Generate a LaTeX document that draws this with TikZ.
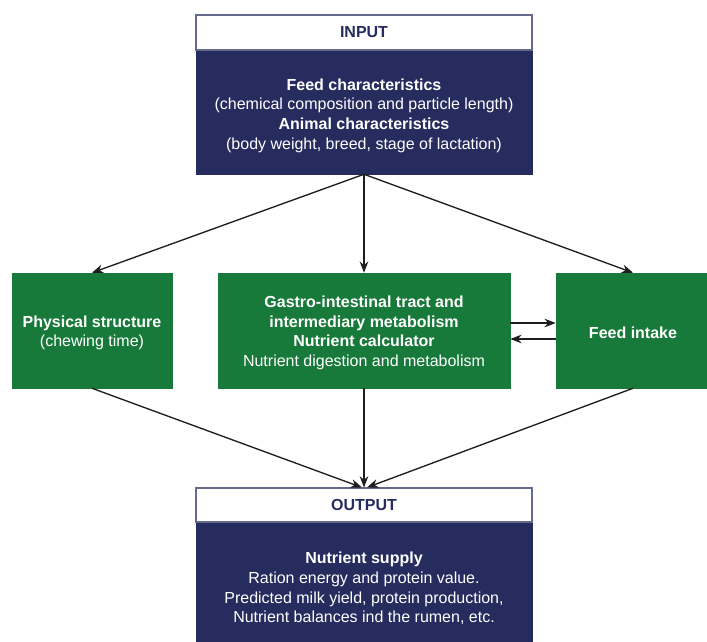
\documentclass[tikz,border=0pt]{standalone}
\usepackage{fontspec}
\setmainfont{Liberation Sans}
\usetikzlibrary{arrows.meta,calc}
\definecolor{navy}{RGB}{38,44,94}
\definecolor{dgreen}{RGB}{24,122,58}
\definecolor{hdrline}{RGB}{100,106,140}
\definecolor{linecol}{RGB}{30,30,30}
\tikzset{
  base/.style={rectangle, inner sep=0pt, align=center, font=\fontsize{12}{14.7}\selectfont},
  hdr/.style={base, fill=white, draw=hdrline, line width=0.8pt, text=navy, font=\fontsize{12}{14.7}\selectfont\bfseries},
  navybox/.style={base, fill=navy, draw=navy},
  greenbox/.style={base, fill=dgreen, draw=dgreen},
  txt/.style={base, text=white},
  arr/.style={draw=linecol, line width=1pt, -{Stealth[length=8.5pt,width=6.5pt]}}
}
\begin{document}
\begin{tikzpicture}[x=0.75pt,y=-0.75pt]
\useasboundingbox (0,0) rectangle (707,642);
\fill[white] (0,0) rectangle (707,642);

% INPUT
\node[navybox, minimum width=252pt, minimum height=93pt] (inb) at (364,112) {};
\node[txt] (inbt) at ($(inb.center)+(0,3.5)$)
  {\textbf{Feed characteristics}\\(chemical composition and particle length)\\\textbf{Animal characteristics}\\(body weight, breed, stage of lactation)};
\node[hdr, minimum width=252pt, minimum height=26.25pt] (inh) at (364,32.5) {INPUT};

% middle row
\node[greenbox, minimum width=120pt, minimum height=86.25pt] (phys) at (92,330.5) {};
\node[txt] (physt) at ($(phys.center)+(0,2.5)$) {\textbf{Physical structure}\\(chewing time)};
\node[greenbox, minimum width=219pt, minimum height=86.25pt] (mid) at (364,330.5) {};
\node[txt] (midt) at ($(mid.center)+(0,2.5)$)
  {\textbf{Gastro-intestinal tract and}\\\textbf{intermediary metabolism}\\\textbf{Nutrient calculator}\\Nutrient digestion and metabolism};
\node[greenbox, minimum width=115.5pt, minimum height=86.25pt] (fi) at (633,330.5) {};
\node[txt] (fit) at ($(fi.center)+(0,2)$) {\textbf{Feed intake}};

% OUTPUT
\node[navybox, minimum width=252pt, minimum height=97.5pt] (outb) at (364,587) {};
\node[txt] (outbt) at ($(outb.center)+(0,1.5)$)
  {\textbf{Nutrient supply}\\Ration energy and protein value.\\Predicted milk yield, protein production,\\Nutrient balances ind the rumen, etc.};
\node[hdr, minimum width=252pt, minimum height=25.5pt] (outh) at (364,505) {OUTPUT};

% connectors
\draw[arr] (inb.south) -- (phys.north);
\draw[arr] (inb.south) -- (mid.north);
\draw[arr] (inb.south) -- (fi.north);
\draw[arr] ($(mid.east)+(0,-7.5)$) -- ($(fi.west)+(0,-7.5)$);
\draw[arr] ($(fi.west)+(0,8.5)$) -- ($(mid.east)+(0,8.5)$);
\draw[arr] (phys.south) -- ($(outh.north)+(-2,0)$);
\draw[arr] (mid.south) -- (outh.north);
\draw[arr] (fi.south) -- ($(outh.north)+(3,0)$);
\end{tikzpicture}
\end{document}
